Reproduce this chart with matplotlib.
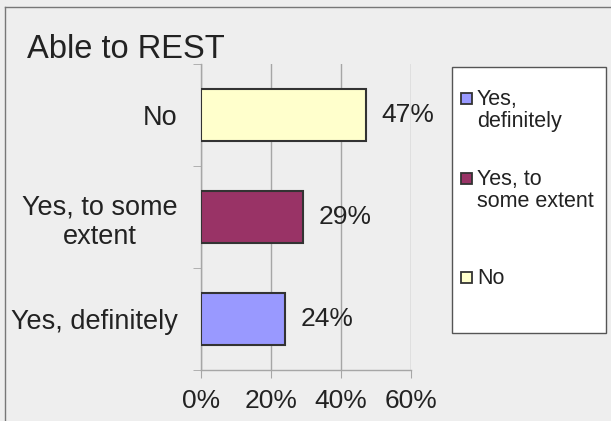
import numpy as np
import matplotlib.pyplot as plt
from matplotlib.lines import Line2D
from matplotlib.patches import Rectangle

plt.rcParams["font.family"] = ["Liberation Sans", "DejaVu Sans"]

# data
categories = ["Yes, definitely", "Yes, to some\nextent", "No"]
values = [0.24, 0.29, 0.47]
colors = ["#9999FF", "#993366", "#FFFFCC"]
legend_labels = ["Yes,\ndefinitely", "Yes, to\nsome extent", "No"]
xticks = [0, 0.2, 0.4, 0.6]
xtick_labels = ["0%", "20%", "40%", "60%"]

W, H = 611, 421
bg = "#EEEEEE"
txt = "#222222"
grid = "#A6A6A6"

fig = plt.figure(figsize=(W / 100, H / 100), dpi=100, facecolor=bg)
ax = fig.add_axes([201 / W, 1 - 370 / H, 210 / W, 306 / H], facecolor=bg)

y = np.arange(len(categories))
ax.barh(y, values, height=0.51, color=colors, edgecolor="#333333", linewidth=1.5, zorder=3)
for yi, v in zip(y, values):
    ax.annotate(f"{v * 100:.0f}%", (v, yi), xytext=(11.5, 0), textcoords="offset points",
                va="center", ha="left", fontsize=19, color=txt, zorder=4)

ax.set_xlim(0, 0.6)
ax.set_ylim(-0.5, len(categories) - 0.5)
ax.set_xticks(xticks)
ax.set_xticklabels(xtick_labels, fontsize=19, color=txt)
ax.set_yticks(y)
ax.set_yticklabels(categories, fontsize=19.5, color=txt)
ax.set_yticks(np.arange(-0.5, len(categories)), minor=True)
ax.tick_params(axis="y", which="major", length=0, pad=17)
ax.tick_params(axis="y", which="minor", length=6, color=grid, direction="out")
ax.tick_params(axis="x", length=6, color=grid, direction="out", pad=8)
for lab in ax.get_yticklabels():
    lab.set_multialignment("center")
ax.xaxis.grid(True, color=grid, linewidth=1, zorder=0)
for s in ["top", "right"]:
    ax.spines[s].set_visible(False)
for s in ["left", "bottom"]:
    ax.spines[s].set_color(grid)
    ax.spines[s].set_linewidth(1)

fig.text(27 / W, 1 - 49 / H, "Able to REST", fontsize=23.5, color=txt, va="center", ha="left")

# figure border
fig.add_artist(Line2D([5 / W, 5 / W], [0, 1 - 7 / H], color="#777777", linewidth=1))
fig.add_artist(Line2D([5 / W, 1], [1 - 7 / H, 1 - 7 / H], color="#777777", linewidth=1))

# legend box drawn by hand
fig.add_artist(Rectangle((452 / W, 1 - 333 / H), 154 / W, 266 / H, transform=fig.transFigure,
                         facecolor="white", edgecolor="#555555", linewidth=1))
entry_y = [98, 178, 277]
for yy, lab, c in zip(entry_y, legend_labels, colors):
    fig.add_artist(Rectangle((461 / W, 1 - (yy + 5.5) / H), 11 / W, 11 / H, transform=fig.transFigure,
                             facecolor=c, edgecolor="#333333", linewidth=1.3))
    fig.text(477 / W, 1 - (yy - 9) / H, lab, fontsize=15.5, color=txt, va="top", ha="left",
             linespacing=1.05)

fig.savefig("out.png", dpi=100, facecolor=bg)
